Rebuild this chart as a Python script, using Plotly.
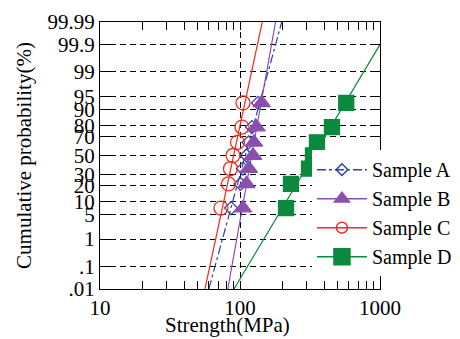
from statistics import NormalDist
import plotly.graph_objects as go

# ---- data ----
samples = ["Sample A", "Sample B", "Sample C", "Sample D"]
prob_pct = [7.14, 21.43, 35.71, 50.0, 64.29, 78.57, 92.86]   # plotting positions (%)
strength_a = [86.3, 100.8, 105.0, 111.2, 115.0, 121.8, 134.4]
strength_b = [105.0, 111.2, 115.8, 123.8, 125.9, 131.2, 142.9]
strength_c = [73.1, 82.8, 85.5, 89.1, 96.0, 103.3, 105.1]
strength_d = [213.2, 231.3, 311.1, 332.1, 354.5, 454.0, 574.0]

fit_prob_pct = [0.01, 99.99]
fit_a = [59.9, 198.6]
fit_b = [81.8, 179.5]
fit_c = [56.2, 144.2]
fit_d = [90.6, 1247.0]

y_tick_pct = [0.01, 0.1, 1, 5, 10, 20, 30, 50, 70, 80, 90, 95, 99, 99.9, 99.99]
y_tick_text = [".01", ".1", "1", "5", "10", "20", "30", "50", "70", "80", "90", "95", "99", "99.9", "99.99"]
x_major = [10, 100, 1000]
x_minor = [20, 30, 40, 50, 60, 70, 80, 90, 200, 300, 400, 500, 600, 700, 800, 900]

nd = NormalDist()
def z(p):
    return [nd.inv_cdf(v / 100.0) for v in p]

styles = {
    "Sample A": dict(color="#2e40a8", symbol="diamond-open", size=10, dash="dashdot", lsize=9),
    "Sample B": dict(color="#8a4fae", symbol="triangle-up", size=15, dash="solid", lsize=13),
    "Sample C": dict(color="#f52a1c", symbol="circle-open", size=14, dash="solid", lsize=11),
    "Sample D": dict(color="#0b8a3e", symbol="square", size=15, dash="solid", lsize=16),
}
points = dict(zip(samples, [strength_a, strength_b, strength_c, strength_d]))
fits = dict(zip(samples, [fit_a, fit_b, fit_c, fit_d]))

fig = go.Figure()
zp = z(prob_pct)
zf = z(fit_prob_pct)
for s in samples:
    st = styles[s]
    fig.add_trace(go.Scatter(x=fits[s], y=zf, mode="lines", showlegend=False,
                             line=dict(color=st["color"], width=1.2, dash=st["dash"]),
                             hoverinfo="skip"))
    fig.add_trace(go.Scatter(x=points[s], y=zp, mode="markers", showlegend=False,
                             marker=dict(symbol=st["symbol"], size=st["size"], color=st["color"],
                                         line=dict(color=st["color"], width=1.3))))
for s in samples:
    st = styles[s]
    fig.add_trace(go.Scatter(x=[None], y=[None], mode="lines+markers", name=s,
                             line=dict(color=st["color"], width=1.5, dash=st["dash"]),
                             marker=dict(symbol=st["symbol"], size=st["lsize"], color=st["color"],
                                         line=dict(color=st["color"], width=1.5))))

zt = z(y_tick_pct)
serif = "Liberation Serif, Times New Roman, serif"
# the page body has an 8px margin; the figure is sized so it fills the 460x339 window
fig.update_layout(
    width=452, height=331,
    margin=dict(l=92, r=80, t=14, b=50, autoexpand=False),
    paper_bgcolor="white", plot_bgcolor="white",
    font=dict(family=serif, size=21, color="black"),
    xaxis=dict(type="log", range=[1, 3], tickvals=x_major, ticktext=[str(v) for v in x_major],
               tickfont=dict(family=serif, size=21),
               ticks="inside", ticklen=8, tickcolor="black", mirror="ticks",
               showline=True, linecolor="black", linewidth=1,
               showgrid=True, gridcolor="black", gridwidth=1, griddash="6px,4px",
               minor=dict(tickvals=x_minor, ticks="inside", ticklen=8, tickcolor="black", showgrid=False),
               zeroline=False, automargin=False),
    yaxis=dict(range=[zt[0], zt[-1]], tickvals=zt, ticktext=y_tick_text,
               tickfont=dict(family=serif, size=21),
               ticks="inside", ticklen=10, tickcolor="black", mirror="ticks",
               showline=True, linecolor="black", linewidth=1,
               showgrid=True, gridcolor="black", gridwidth=1, griddash="6px,4px",
               title=dict(text="Cumulative probability(%)", standoff=10, font=dict(family=serif, size=21)),
               zeroline=False, automargin=False),
    legend=dict(x=0.757, y=0.52, xanchor="left", yanchor="top", bgcolor="white",
                font=dict(family=serif, size=20), itemwidth=50, tracegroupgap=0),
    annotations=[dict(text="Strength(MPa)", xref="paper", yref="paper", x=0.457, y=-0.135,
                      xanchor="center", yanchor="middle", showarrow=False,
                      font=dict(family=serif, size=21, color="black"))],
)
fig.write_html("out.html")
